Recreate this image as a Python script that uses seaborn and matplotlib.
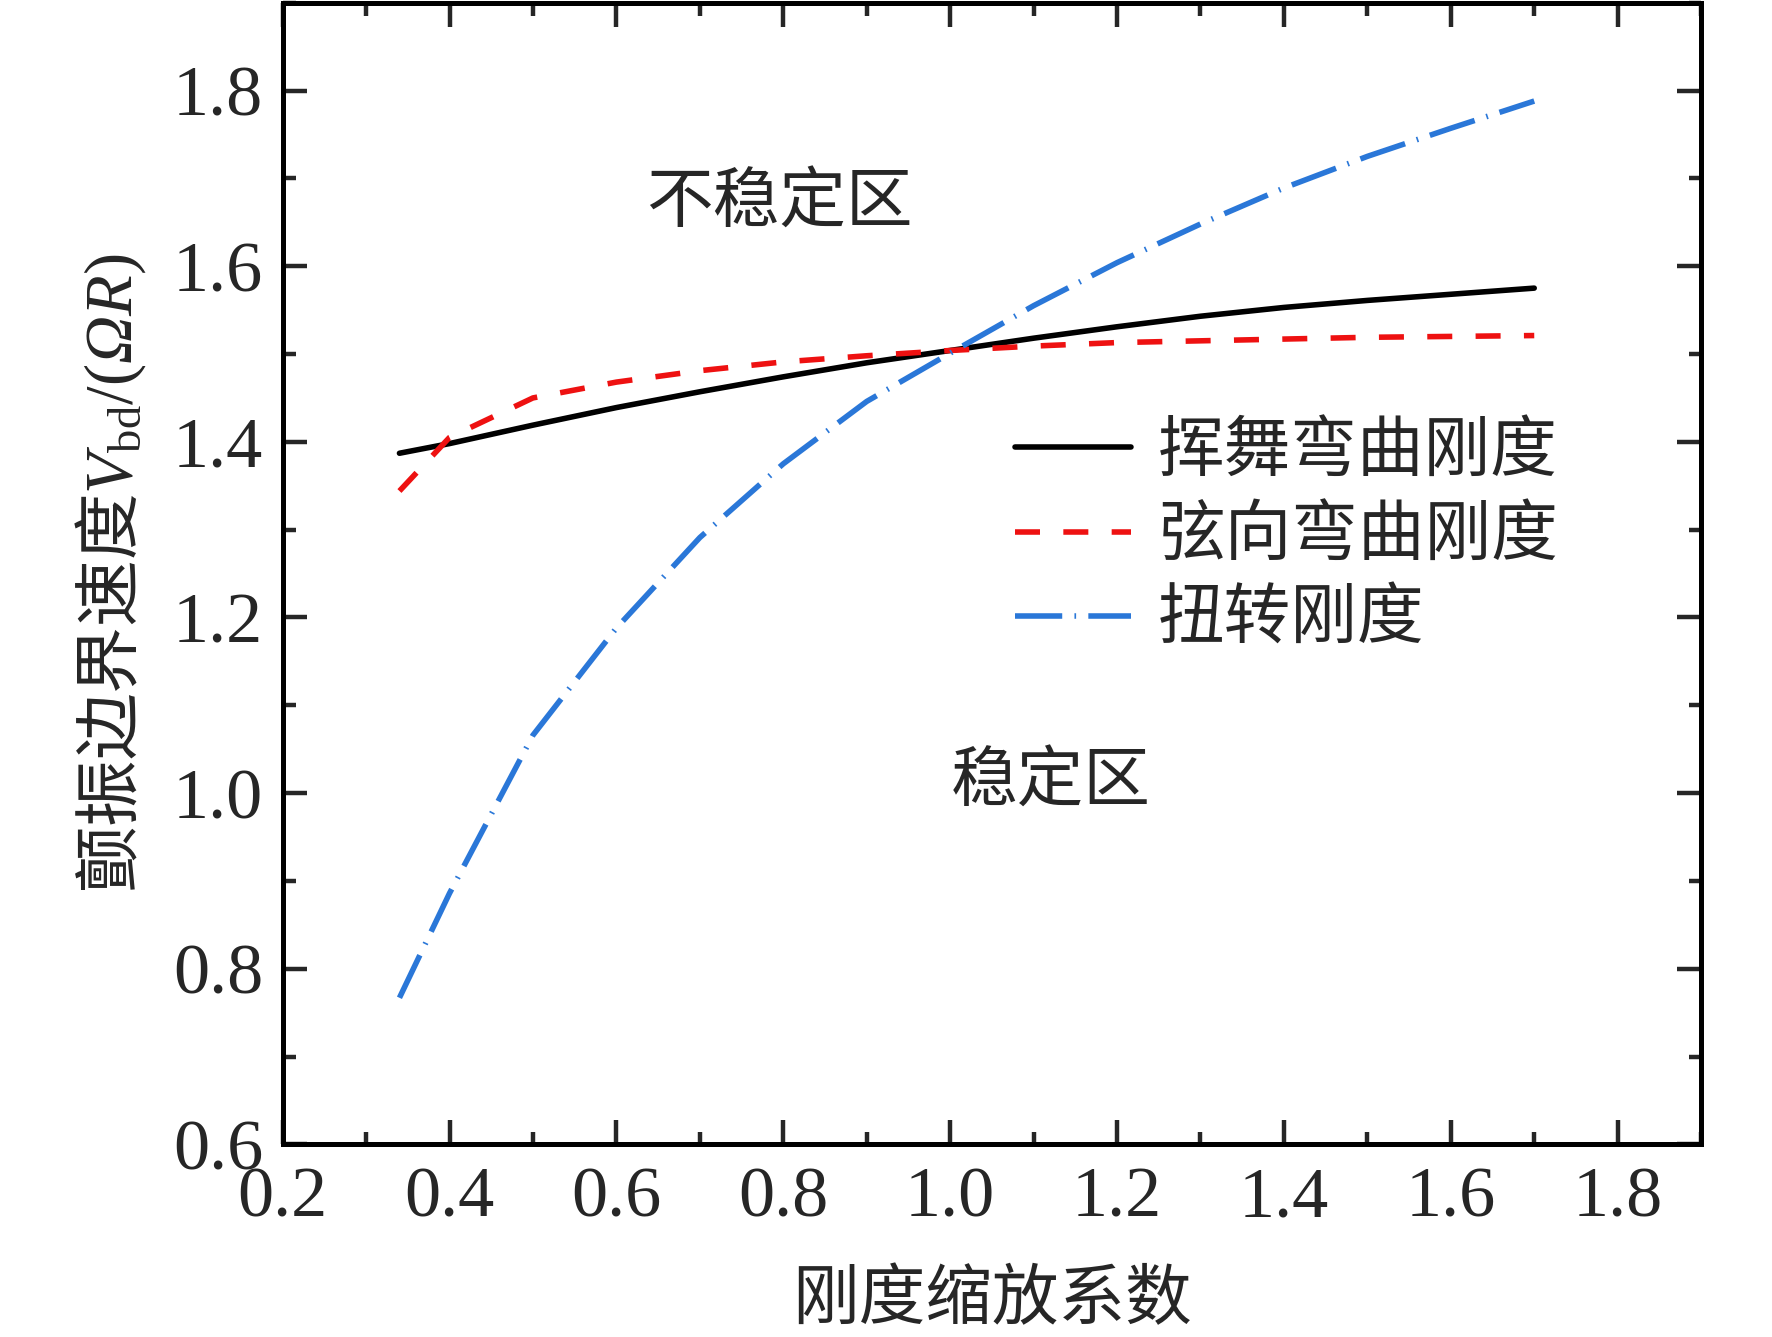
import numpy as np
import pandas as pd
import matplotlib
matplotlib.use("Agg")
import matplotlib.pyplot as plt
import seaborn as sns
from matplotlib.ticker import MultipleLocator

# 刚度缩放系数
scale = [0.34, 0.4, 0.5, 0.6, 0.7, 0.8, 0.9, 1.0, 1.1, 1.2, 1.3, 1.4, 1.5, 1.6, 1.7]

# 颤振边界速度 V_bd/(ΩR)
flap = [1.387, 1.398, 1.419, 1.439, 1.457, 1.474, 1.490, 1.504, 1.518, 1.531, 1.543, 1.553, 1.561, 1.568, 1.575]
lag = [1.344, 1.405, 1.450, 1.468, 1.481, 1.491, 1.498, 1.504, 1.509, 1.513, 1.515, 1.517, 1.519, 1.520, 1.521]
torsion = [0.767, 0.886, 1.066, 1.188, 1.291, 1.375, 1.446, 1.501, 1.555, 1.604, 1.648, 1.689, 1.725, 1.757, 1.788]

series_names = ["挥舞弯曲刚度", "弦向弯曲刚度", "扭转刚度"]

xticks = [0.2, 0.4, 0.6, 0.8, 1.0, 1.2, 1.4, 1.6, 1.8]
yticks = [0.6, 0.8, 1.0, 1.2, 1.4, 1.6, 1.8]

df = pd.DataFrame({
    "x": scale * 3,
    "y": flap + lag + torsion,
    "kind": [n for n in series_names for _ in scale],
})

sns.set_theme(style="ticks")
plt.rcParams["font.family"] = ["Liberation Serif", "Noto Sans CJK SC"]
plt.rcParams["mathtext.fontset"] = "custom"
plt.rcParams["mathtext.rm"] = "Liberation Serif"
plt.rcParams["mathtext.it"] = "Liberation Serif:italic"
# sf 用作斜体希腊字母 (it 会把大写希腊字母改成正体)
plt.rcParams["mathtext.sf"] = "Liberation Serif:italic"
plt.rcParams["axes.linewidth"] = 1.8

cjk = "Noto Sans CJK SC"

fig = plt.figure(figsize=(8.86, 6.685), dpi=200)
ax = fig.add_axes([0.1595, 0.144, 0.8005, 0.854])

styles = {
    "挥舞弯曲刚度": dict(color="black", linestyle="-"),
    "弦向弯曲刚度": dict(color="#ee1111", linestyle=(0, (4.5, 4.2))),
    "扭转刚度": dict(color="#2a77d8", linestyle=(0, (8.5, 2.2, 0.3, 2.2))),
}
for name in series_names:
    sub = df[df["kind"] == name]
    sns.lineplot(data=sub, x="x", y="y", ax=ax, label=name, linewidth=2.0, **styles[name])

ax.set_xlim(0.2, 1.9)
ax.set_ylim(0.6, 1.9)
ax.set_xticks(xticks)
ax.set_yticks(yticks)
ax.set_xticklabels([f"{v:.1f}" for v in xticks])
ax.set_yticklabels([f"{v:.1f}" for v in yticks])
ax.xaxis.set_minor_locator(MultipleLocator(0.1))
ax.yaxis.set_minor_locator(MultipleLocator(0.1))
ax.tick_params(which="both", direction="in", top=True, right=True, width=1.6)
ax.tick_params(which="major", length=8.5, pad=7, labelsize=26)
ax.tick_params(axis="x", which="major", pad=8)
ax.tick_params(which="minor", length=4.5)
for s in ax.spines.values():
    s.set_visible(True)
    s.set_color("black")

ax.set_xlabel("刚度缩放系数", fontsize=24, family=cjk)
ax.xaxis.set_label_coords(0.5, -0.107)
ax.set_ylabel("颤振边界速度$V_{\\mathrm{bd}}/(\\mathsf{\\Omega}\\mathit{R})$", fontsize=24, family=cjk)
ax.yaxis.set_label_coords(-0.095, 0.5)

ax.text(0.795, 1.671, "不稳定区", fontsize=24, family=cjk, ha="center", va="center")
ax.text(1.12, 1.012, "稳定区", fontsize=24, family=cjk, ha="center", va="center")

leg = ax.legend(loc="upper left", bbox_to_anchor=(0.516, 0.636), frameon=False,
                prop={"family": cjk, "size": 24}, handlelength=1.75, handletextpad=0.4,
                labelspacing=0.25, borderaxespad=0, borderpad=0)

fig.savefig("out.png", dpi=200)
